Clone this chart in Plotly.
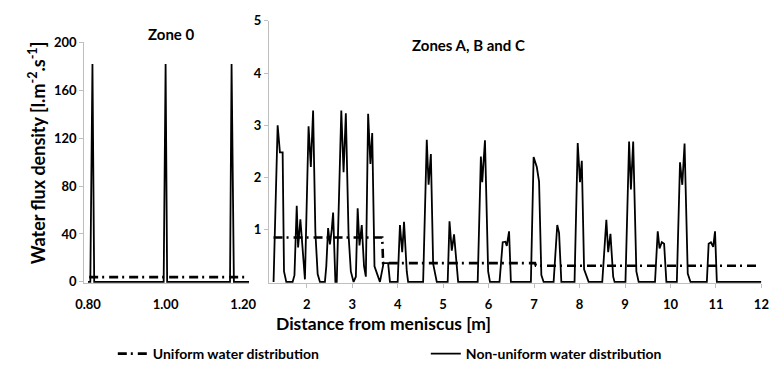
import plotly.graph_objects as go

W, H = 773, 376

# ---------------- data ----------------
zone0_x = [0.800, 0.806, 0.8115, 0.816, 0.995, 1.000, 1.004, 1.166, 1.170, 1.176, 1.215]
zone0_nonuniform = [0, 0, 182, 0, 0, 182, 0, 0, 182, 0, 0]
zone0_uniform_x = [0.803, 1.215]
zone0_uniform = [4, 4]

abc_x = [1.27, 1.36, 1.41, 1.47, 1.50, 1.55, 1.69, 1.73, 1.78, 1.81, 1.86, 1.91, 1.96,
         2.04, 2.09, 2.14, 2.19, 2.24, 2.29, 2.40, 2.43, 2.47, 2.51, 2.55, 2.58, 2.63,
         2.66, 2.76, 2.81, 2.86, 2.92, 2.97, 3.03, 3.08, 3.12, 3.16, 3.21, 3.26, 3.30,
         3.35, 3.40, 3.44, 3.49, 3.55, 3.61, 3.69, 3.79, 3.83, 4.00, 4.05, 4.10, 4.14,
         4.20, 4.23, 4.56, 4.64, 4.68, 4.73, 4.78, 4.86, 5.10, 5.14, 5.19, 5.24, 5.29,
         5.33, 5.76, 5.83, 5.86, 5.92, 5.99, 6.03, 6.24, 6.31, 6.37, 6.40, 6.45, 6.49,
         6.93, 6.99, 7.06, 7.11, 7.16, 7.21, 7.43, 7.51, 7.55, 7.60, 7.89, 7.96, 8.01,
         8.05, 8.10, 8.20, 8.50, 8.59, 8.63, 8.68, 8.74, 8.77, 9.01, 9.09, 9.13, 9.18,
         9.25, 9.30, 9.66, 9.72, 9.76, 9.81, 9.86, 9.91, 10.14, 10.21, 10.26, 10.31,
         10.38, 10.44, 10.80, 10.84, 10.89, 10.94, 10.98, 11.02, 12.00]
abc_nonuniform = [0, 3.00, 2.48, 2.48, 0.20, 0, 0, 0.13, 1.46, 0.66, 1.20, 0.55, 0.05,
                  2.98, 2.20, 3.28, 0.95, 0.15, 0, 0, 0.30, 1.03, 0.72, 1.00, 1.33, 0,
                  0, 3.28, 2.10, 3.23, 0.90, 0.20, 0, 0.10, 1.41, 0.70, 1.09, 0.30, 0.10,
                  3.22, 2.26, 2.85, 0.30, 0.15, 0, 0.36, 0.36, 0, 0, 1.09, 0.57, 1.15,
                  0.20, 0, 0, 2.72, 1.86, 2.45, 0.35, 0, 0, 1.16, 0.60, 0.91, 0.30,
                  0, 0, 2.40, 1.91, 2.71, 0.20, 0, 0, 0.76, 0.77, 0.69, 0.97, 0,
                  0, 2.39, 2.20, 1.92, 0.13, 0, 0, 1.09, 0.94, 0, 0, 2.66, 1.91,
                  2.32, 0.24, 0, 0, 1.19, 0.57, 0.92, 0.10, 0, 0, 2.69, 1.77, 2.69,
                  0.20, 0, 0, 0.97, 0.64, 0.76, 0.73, 0, 0, 2.29, 1.86, 2.65,
                  0.16, 0, 0, 0.73, 0.76, 0.67, 0.97, 0, 0]

abc_uniform_x = [1.27, 3.66, 3.68, 7.02, 7.04, 11.90]
abc_uniform = [0.85, 0.85, 0.36, 0.36, 0.31, 0.31]

left_yticks = [0, 40, 80, 120, 160, 200]
left_xticks = [0.80, 1.00, 1.20]
right_yticks = [1, 2, 3, 4, 5]
right_xticks = list(range(2, 13))

# ---------------- styling ----------------
FONT = "Lato"
BLACK = "#000000"
AXIS_GRAY = "#bfbfbf"
DASH = "9px,4px,2px,5px"


def fx(px):
    return px / W


def fy(py):
    return (H - py) / H


def px_x(a, b):
    return [fx(a), fx(b)]


def px_y(top, bottom):
    return [fy(bottom), fy(top)]


def bold(size):
    return dict(family=FONT, size=size, color=BLACK, weight="bold")


fig = go.Figure()

fig.add_trace(go.Scatter(x=zone0_uniform_x, y=zone0_uniform, mode="lines",
                         line=dict(color=BLACK, width=2.6, dash=DASH),
                         name="Uniform water distribution", xaxis="x", yaxis="y",
                         showlegend=True))
fig.add_trace(go.Scatter(x=zone0_x, y=zone0_nonuniform, mode="lines",
                         line=dict(color=BLACK, width=1.8),
                         name="Non-uniform water distribution", xaxis="x", yaxis="y",
                         showlegend=True))
fig.add_trace(go.Scatter(x=abc_uniform_x, y=abc_uniform, mode="lines",
                         line=dict(color=BLACK, width=2.6, dash=DASH),
                         name="Uniform water distribution", xaxis="x2", yaxis="y2",
                         showlegend=False))
fig.add_trace(go.Scatter(x=abc_x, y=abc_nonuniform, mode="lines",
                         line=dict(color=BLACK, width=1.8),
                         name="Non-uniform water distribution", xaxis="x2", yaxis="y2",
                         showlegend=False))

common_axis = dict(showgrid=False, zeroline=False, showline=True, linecolor=AXIS_GRAY,
                   linewidth=1, tickfont=bold(13), layer="below traces", fixedrange=True)

fig.update_layout(
    width=W, height=H,
    margin=dict(l=0, r=0, t=0, b=0),
    paper_bgcolor="white", plot_bgcolor="white",
    font=dict(family=FONT, color=BLACK),
    xaxis=dict(common_axis, domain=px_x(76.7, 245.5), range=[0.79, 1.216],
               tickvals=left_xticks, tickformat=".2f", ticks="", ticklabelstandoff=9,
               anchor="y"),
    yaxis=dict(common_axis, domain=px_y(35.7, 285.6), range=[-0.9, 200],
               tickvals=left_yticks, ticks="outside", ticklen=4, tickcolor=AXIS_GRAY,
               anchor="x"),
    xaxis2=dict(common_axis, domain=px_x(265.5, 768.3), range=[1.17, 12],
                tickvals=right_xticks, ticks="outside", ticklen=4, tickcolor=AXIS_GRAY,
                ticklabelstandoff=5, anchor="y2"),
    yaxis2=dict(common_axis, domain=px_y(13.3, 285.6), range=[-0.02, 5],
                tickvals=right_yticks, ticks="outside", ticklen=4, tickcolor=AXIS_GRAY,
                anchor="x2"),
    legend=dict(orientation="h", x=fx(106), xanchor="left", y=0,
                yanchor="bottom", entrywidth=268, entrywidthmode="pixels",
                font=bold(14), bgcolor="rgba(0,0,0,0)", traceorder="normal"),
    annotations=[
        dict(text="Water flux density [l.m<sup>-2</sup>.s<sup>-1</sup>]",
             x=fx(29), y=fy(150.5), xref="paper", yref="paper", textangle=-90,
             showarrow=False, xanchor="center", yanchor="middle", font=bold(18)),
        dict(text="Zone 0", x=fx(165), y=fy(27.5), xref="paper", yref="paper",
             showarrow=False, xanchor="center", yanchor="middle", font=bold(15)),
        dict(text="Zones A, B and C", x=fx(469), y=fy(38), xref="paper", yref="paper",
             showarrow=False, xanchor="center", yanchor="middle", font=bold(15)),
        dict(text="Distance from meniscus [m]", x=fx(382), y=fy(328),
             xref="paper", yref="paper", showarrow=False, xanchor="center",
             yanchor="middle", font=bold(17.5)),
    ],
)

fig.write_html("out.html")
